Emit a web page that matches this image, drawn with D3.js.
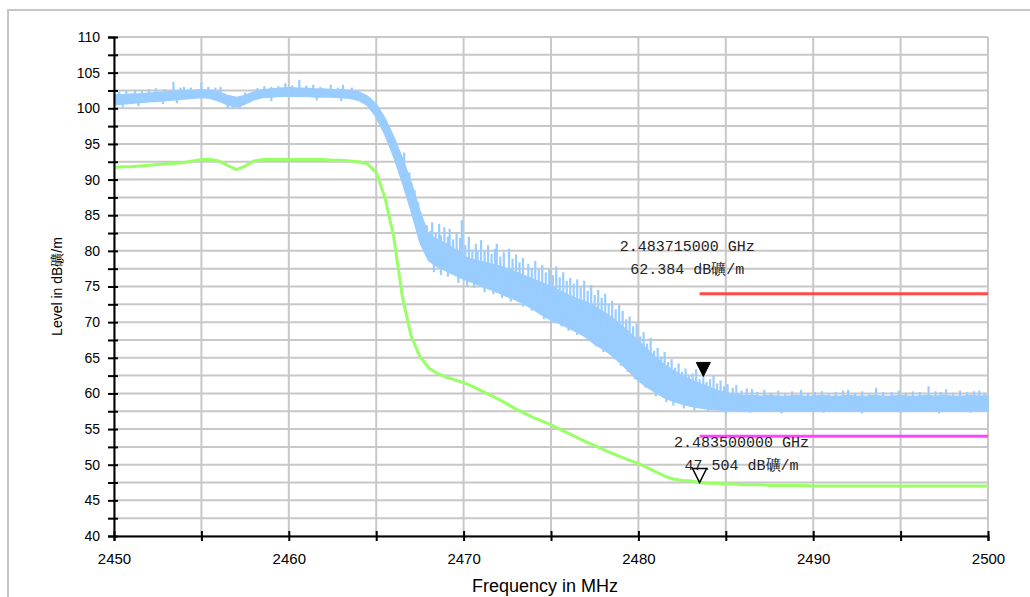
<!DOCTYPE html>
<html>
<head>
<meta charset="utf-8">
<script src="https://cdn.jsdelivr.net/npm/d3@7"></script>
<style>
  html, body { margin: 0; padding: 0; background: #fff; }
  svg { display: block; }
</style>
</head>
<body>
<svg id="chart" width="1030" height="597"></svg>
<script>
// Spectrum sweep 2450–2500 MHz, sampled every 0.5 MHz
const freqs = d3.range(2450, 2500.001, 0.5);

// Peak trace (blue): lower and upper edge of the noisy band, dBµV/m
const peakLow = [
  100.5, 100.6, 100.7, 100.8, 100.9, 101.0, 101.1, 101.2, 101.3, 101.4,
  101.5, 101.4, 101.0, 100.5, 100.2, 100.6, 101.2, 101.5, 101.6, 101.7,
  101.7, 101.7, 101.7, 101.6, 101.6, 101.6, 101.5, 101.4, 101.1, 100.4,
  98.8, 96.3, 93.2, 89.6, 85.6, 81.2, 78.6, 77.8, 77.2, 76.6,
  76.0, 75.6, 75.1, 74.6, 74.1, 73.6, 73.1, 72.5, 71.8, 71.0,
  70.3, 69.8, 69.2, 68.6, 67.9, 66.9, 66.2, 65.3, 64.2, 63.0,
  61.8, 60.9, 60.1, 59.4, 58.9, 58.5, 58.2, 58.0, 57.8, 57.7,
  57.6, 57.6, 57.5, 57.6, 57.5, 57.6, 57.5, 57.5, 57.6, 57.5,
  57.5, 57.6, 57.5, 57.5, 57.6, 57.5, 57.5, 57.6, 57.5, 57.5,
  57.6, 57.5, 57.5, 57.6, 57.5, 57.6, 57.5, 57.5, 57.6, 57.5,
  57.6
];
const peakHigh = [
  101.9, 101.9, 102.0, 102.0, 102.1, 102.2, 102.3, 102.4, 102.5, 102.5,
  102.6, 102.5, 102.3, 101.8, 101.5, 101.8, 102.3, 102.6, 102.7, 102.8,
  102.9, 102.8, 102.8, 102.7, 102.7, 102.6, 102.6, 102.5, 102.3, 101.7,
  100.6, 98.6, 96.0, 93.0, 89.6, 85.6, 82.2, 81.6, 81.0, 80.2,
  79.2, 78.8, 78.5, 78.2, 77.9, 77.5, 77.0, 76.5, 76.0, 75.5,
  75.0, 74.4, 73.8, 73.3, 72.8, 72.2, 71.4, 70.6, 69.6, 68.5,
  67.4, 66.2, 65.0, 64.0, 63.2, 62.5, 61.9, 61.4, 60.9, 60.4,
  60.1, 59.9, 59.7, 59.7, 59.6, 59.7, 59.6, 59.6, 59.7, 59.6,
  59.6, 59.7, 59.6, 59.6, 59.7, 59.6, 59.6, 59.7, 59.6, 59.6,
  59.7, 59.6, 59.6, 59.7, 59.6, 59.7, 59.6, 59.6, 59.7, 59.6,
  59.7
];

// Spikes rising above the peak band: [frequency MHz, level dBµV/m]
const peakSpikesUp = [
  [2450.3, 102.3], [2450.7, 102.5], [2451.2, 102.6], [2451.6, 102.4], [2452.0, 102.7],
  [2452.4, 102.8], [2452.9, 102.7], [2453.4, 103.7], [2453.8, 102.9], [2454.0, 103.0],
  [2454.4, 102.9], [2455.0, 103.6], [2455.4, 103.0], [2455.8, 102.9], [2456.1, 103.0],
  [2457.5, 102.2], [2458.2, 102.8], [2458.6, 103.1], [2459.0, 103.0], [2459.4, 103.1],
  [2459.8, 103.5], [2460.2, 103.2], [2460.6, 104.0], [2461.0, 103.2], [2461.4, 103.3],
  [2461.8, 103.0], [2462.4, 103.3], [2462.8, 102.9], [2463.1, 103.3], [2463.6, 102.9],
  [2466.6, 93.8], [2466.9, 91.0], [2467.2, 88.5], [2467.4, 86.8], [2467.6, 84.5],
  [2467.9, 83.6], [2468.1, 82.8], [2468.2, 84.0], [2468.4, 82.5], [2468.6, 83.8],
  [2468.7, 82.2], [2468.9, 83.3], [2469.1, 82.0], [2469.2, 83.1], [2469.4, 81.6],
  [2469.6, 82.4], [2469.8, 81.8], [2469.9, 84.3], [2470.1, 80.8], [2470.3, 82.0],
  [2470.5, 80.2], [2470.7, 81.0], [2470.8, 79.9], [2471.0, 81.5], [2471.2, 80.0],
  [2471.4, 80.8], [2471.6, 79.6], [2471.8, 80.3], [2471.9, 81.0], [2472.1, 79.2],
  [2472.3, 79.8], [2472.6, 80.3], [2472.8, 78.9], [2473.0, 79.5], [2473.2, 78.4],
  [2473.4, 79.0], [2473.7, 78.2], [2473.9, 77.6], [2474.1, 78.6], [2474.3, 77.4],
  [2474.5, 78.0], [2474.7, 77.0], [2474.9, 77.5], [2475.1, 76.6], [2475.3, 77.8],
  [2475.5, 76.3], [2475.7, 77.0], [2475.9, 75.8], [2476.1, 76.2], [2476.3, 75.4],
  [2476.5, 76.0], [2476.7, 74.9], [2476.9, 75.8], [2477.1, 74.4], [2477.3, 75.2],
  [2477.5, 73.8], [2477.7, 74.5], [2477.9, 73.4], [2478.1, 74.0], [2478.3, 72.6],
  [2478.5, 73.0], [2478.7, 71.8], [2478.9, 72.4], [2479.1, 71.6], [2479.3, 70.4],
  [2479.5, 70.8], [2479.7, 69.4], [2479.9, 69.8], [2480.1, 68.0], [2480.3, 68.6],
  [2480.5, 67.0], [2480.7, 67.8], [2480.9, 66.0], [2481.1, 66.4], [2481.3, 65.2],
  [2481.5, 65.8], [2481.7, 64.4], [2481.9, 64.8], [2482.1, 63.6], [2482.3, 64.2],
  [2482.5, 63.0], [2482.7, 63.5], [2482.9, 62.6], [2483.1, 62.8], [2483.3, 63.4],
  [2483.5, 62.0], [2483.715, 62.384], [2483.9, 61.6], [2484.1, 62.0], [2484.3, 62.5],
  [2484.5, 61.4], [2484.7, 61.8], [2484.9, 61.0], [2485.1, 61.3], [2485.4, 60.8],
  [2485.6, 61.2], [2485.9, 60.4], [2486.2, 60.7], [2486.5, 60.6], [2486.8, 60.2],
  [2487.2, 60.5], [2487.6, 60.1], [2488.0, 60.4], [2488.4, 60.0], [2488.8, 60.3],
  [2489.3, 60.5], [2489.7, 60.1], [2490.1, 60.2], [2490.5, 60.3], [2490.9, 60.0],
  [2491.3, 60.2], [2491.7, 60.4], [2492.0, 60.5], [2492.4, 60.1], [2492.8, 60.3],
  [2493.2, 60.0], [2493.6, 60.8], [2494.0, 60.2], [2494.5, 60.2], [2494.9, 60.4],
  [2495.3, 60.1], [2495.7, 60.3], [2496.1, 60.2], [2496.6, 61.0], [2497.0, 60.3],
  [2497.3, 60.2], [2497.6, 60.6], [2498.0, 60.1], [2498.4, 60.4], [2498.8, 60.2],
  [2499.2, 60.3], [2499.5, 60.4], [2499.8, 60.1]
];

// Dips below the peak band: [frequency MHz, level dBµV/m]
const peakSpikesDown = [
  [2450.5, 100.1], [2451.4, 100.3], [2452.8, 100.6], [2453.6, 100.7], [2456.5, 99.9],
  [2456.8, 100.0], [2457.2, 99.9], [2459.0, 101.0], [2461.6, 101.1], [2463.0, 101.0],
  [2468.3, 77.0], [2468.7, 76.6], [2469.1, 76.4], [2469.7, 75.5], [2470.2, 75.0],
  [2470.6, 74.8], [2471.2, 74.2], [2471.7, 73.9], [2472.2, 73.4], [2472.7, 72.9],
  [2473.4, 72.2], [2473.9, 71.6], [2474.6, 70.4], [2475.0, 69.8], [2475.6, 69.4],
  [2476.0, 68.8], [2476.5, 68.2], [2477.1, 67.6], [2477.6, 66.6], [2478.0, 65.8],
  [2478.6, 64.8], [2479.0, 63.9], [2479.4, 63.0], [2479.8, 62.0], [2480.4, 60.8],
  [2481.0, 59.6], [2481.6, 58.8], [2482.0, 58.3], [2482.6, 57.9], [2483.2, 57.6],
  [2484.0, 57.4], [2485.0, 57.2], [2486.4, 57.3], [2488.2, 57.2], [2490.6, 57.3],
  [2492.8, 57.2], [2495.0, 57.3], [2497.2, 57.2], [2499.0, 57.3]
];

// Average trace (green), dBµV/m
const average = [
  91.7, 91.8, 91.8, 91.9, 92.0, 92.1, 92.2, 92.3, 92.4, 92.6,
  92.8, 92.8, 92.6, 92.0, 91.4, 91.9, 92.6, 92.8, 92.8, 92.8,
  92.8, 92.8, 92.8, 92.8, 92.8, 92.7, 92.7, 92.6, 92.5, 92.2,
  91.0, 87.5, 82.0, 73.5, 68.0, 65.2, 63.6, 62.8, 62.3, 61.9,
  61.5, 61.0, 60.4, 59.8, 59.2, 58.5, 57.8, 57.2, 56.6, 56.1,
  55.6, 55.0, 54.4, 53.8, 53.2, 52.7, 52.1, 51.6, 51.1, 50.6,
  50.2, 49.6, 49.0, 48.4, 48.0, 47.8, 47.7, 47.5, 47.4, 47.4,
  47.3, 47.3, 47.2, 47.2, 47.2, 47.1, 47.1, 47.1, 47.1, 47.1,
  47.0, 47.0, 47.0, 47.0, 47.0, 47.0, 47.0, 47.0, 47.0, 47.0,
  47.0, 47.0, 47.0, 47.0, 47.0, 47.0, 47.0, 47.0, 47.0, 47.0,
  47.0
];

// Limit lines starting at the band edge
const limitStart = 2483.5;
const peakLimit = 74;
const avgLimit = 54;

// Markers
const markers = [
  { f: 2483.715, level: 62.384, line1: "2.483715000 GHz", line2: "62.384 dB礦/m", filled: true },
  { f: 2483.5, level: 47.504, line1: "2.483500000 GHz", line2: "47.504 dB礦/m", filled: false }
];

const yTicks = d3.range(40, 110.001, 2.5);
const xTicks = d3.range(2450, 2500.001, 5);

const svg = d3.select("#chart");
const plotL = 114, plotR = 988, plotT = 37, plotB = 536;

const x = d3.scaleLinear().domain([2450, 2500]).range([plotL, plotR]);
const y = d3.scaleLinear().domain([40, 110]).range([plotB, plotT]);

// outer frame
svg.append("path")
  .attr("d", `M8,597 V10 H1030`)
  .attr("fill", "none").attr("stroke", "#c6c6c6").attr("stroke-width", 2);

// grid
const grid = svg.append("g").attr("stroke", "#c8c8c8").attr("stroke-width", 2);
grid.selectAll(".h").data(yTicks).join("line").attr("class", "h")
  .attr("x1", plotL).attr("x2", plotR)
  .attr("y1", d => y(d)).attr("y2", d => y(d));
grid.selectAll(".v").data(xTicks).join("line").attr("class", "v")
  .attr("x1", d => x(d)).attr("x2", d => x(d))
  .attr("y1", plotT).attr("y2", plotB);

// peak trace band
const band = freqs.map((f, i) => ({ f, lo: peakLow[i], hi: peakHigh[i] }));
svg.append("path").datum(band)
  .attr("fill", "#99ccff").attr("stroke", "#99ccff").attr("stroke-width", 1.5)
  .attr("d", d3.area().x(d => x(d.f)).y0(d => y(d.lo)).y1(d => y(d.hi)));

const midAt = f => {
  const i = Math.min(freqs.length - 2, Math.floor((f - 2450) / 0.5));
  const t = (f - freqs[i]) / 0.5;
  const m0 = (peakLow[i] + peakHigh[i]) / 2, m1 = (peakLow[i + 1] + peakHigh[i + 1]) / 2;
  return m0 + (m1 - m0) * t;
};
svg.append("g").attr("stroke", "#99ccff").attr("stroke-width", 2.2)
  .selectAll("line").data(peakSpikesUp.concat(peakSpikesDown)).join("line")
  .attr("x1", d => x(d[0])).attr("x2", d => x(d[0]))
  .attr("y1", d => y(midAt(d[0]))).attr("y2", d => y(d[1]));

// average trace
svg.append("path").datum(freqs.map((f, i) => [f, average[i]]))
  .attr("fill", "none").attr("stroke", "#99ff66").attr("stroke-width", 3)
  .attr("d", d3.line().x(d => x(d[0])).y(d => y(d[1])));

// limit lines
svg.append("line")
  .attr("x1", x(limitStart)).attr("x2", x(2500))
  .attr("y1", y(peakLimit)).attr("y2", y(peakLimit))
  .attr("stroke", "#ff4a4a").attr("stroke-width", 3);
svg.append("line")
  .attr("x1", x(limitStart)).attr("x2", x(2500))
  .attr("y1", y(avgLimit)).attr("y2", y(avgLimit))
  .attr("stroke", "#ff44ff").attr("stroke-width", 3);

// axes
const yAxis = svg.append("g").attr("transform", `translate(${plotL},0)`)
  .call(d3.axisLeft(y).tickValues(yTicks).tickSize(6).tickPadding(8)
    .tickFormat(d => d % 5 === 0 ? d : ""));
yAxis.select(".domain").attr("stroke", "#000").attr("stroke-width", 2);
yAxis.selectAll(".tick line").attr("x1", 4).attr("x2", -6).attr("stroke", "#000").attr("stroke-width", 2);
yAxis.selectAll("text").attr("font-family", "Liberation Sans, Arial, sans-serif")
  .attr("font-size", 14).attr("fill", "#000");

const xAxis = svg.append("g").attr("transform", `translate(0,${plotB})`)
  .call(d3.axisBottom(x).tickValues(xTicks).tickSize(5).tickPadding(12)
    .tickFormat(d => d % 10 === 0 ? d : ""));
xAxis.select(".domain").attr("stroke", "#000").attr("stroke-width", 2);
xAxis.selectAll(".tick line").attr("y1", -5).attr("y2", 5).attr("stroke", "#000").attr("stroke-width", 2);
xAxis.selectAll("text").attr("font-family", "Liberation Sans, Arial, sans-serif")
  .attr("font-size", 15).attr("fill", "#000");

// axis titles
svg.append("text")
  .attr("x", (plotL + plotR) / 2 - 6).attr("y", 592)
  .attr("text-anchor", "middle")
  .attr("font-family", "Liberation Sans, Arial, sans-serif").attr("font-size", 18)
  .text("Frequency in MHz");
svg.append("text")
  .attr("transform", `translate(62,${(plotT + plotB) / 2}) rotate(-90)`)
  .attr("text-anchor", "middle")
  .attr("font-family", "Liberation Sans, Arial, sans-serif").attr("font-size", 14)
  .text("Level in dB礦/m");

// markers
const mg = svg.append("g");
markers.forEach(m => {
  const mx = x(m.f), my = y(m.level);
  mg.append("path")
    .attr("d", `M${mx - 7},${my - 14} L${mx + 7},${my - 14} L${mx},${my} Z`)
    .attr("fill", m.filled ? "#000" : "#fff")
    .attr("stroke", "#000").attr("stroke-width", m.filled ? 1 : 1.5);
});

// marker readouts
const readout = [
  { m: markers[0], cx: x(markers[0].f) - 16, y1: 251, y2: 274 },
  { m: markers[1], cx: x(markers[1].f) + 42, y1: 447, y2: 470 }
];
readout.forEach(r => {
  const t = svg.append("text")
    .attr("text-anchor", "middle")
    .attr("font-family", "Liberation Mono, DejaVu Sans Mono, monospace")
    .attr("font-size", 15).attr("fill", "#222");
  t.append("tspan").attr("x", r.cx).attr("y", r.y1).text(r.m.line1);
  t.append("tspan").attr("x", r.cx).attr("y", r.y2).text(r.m.line2);
});
</script>
</body>
</html>
